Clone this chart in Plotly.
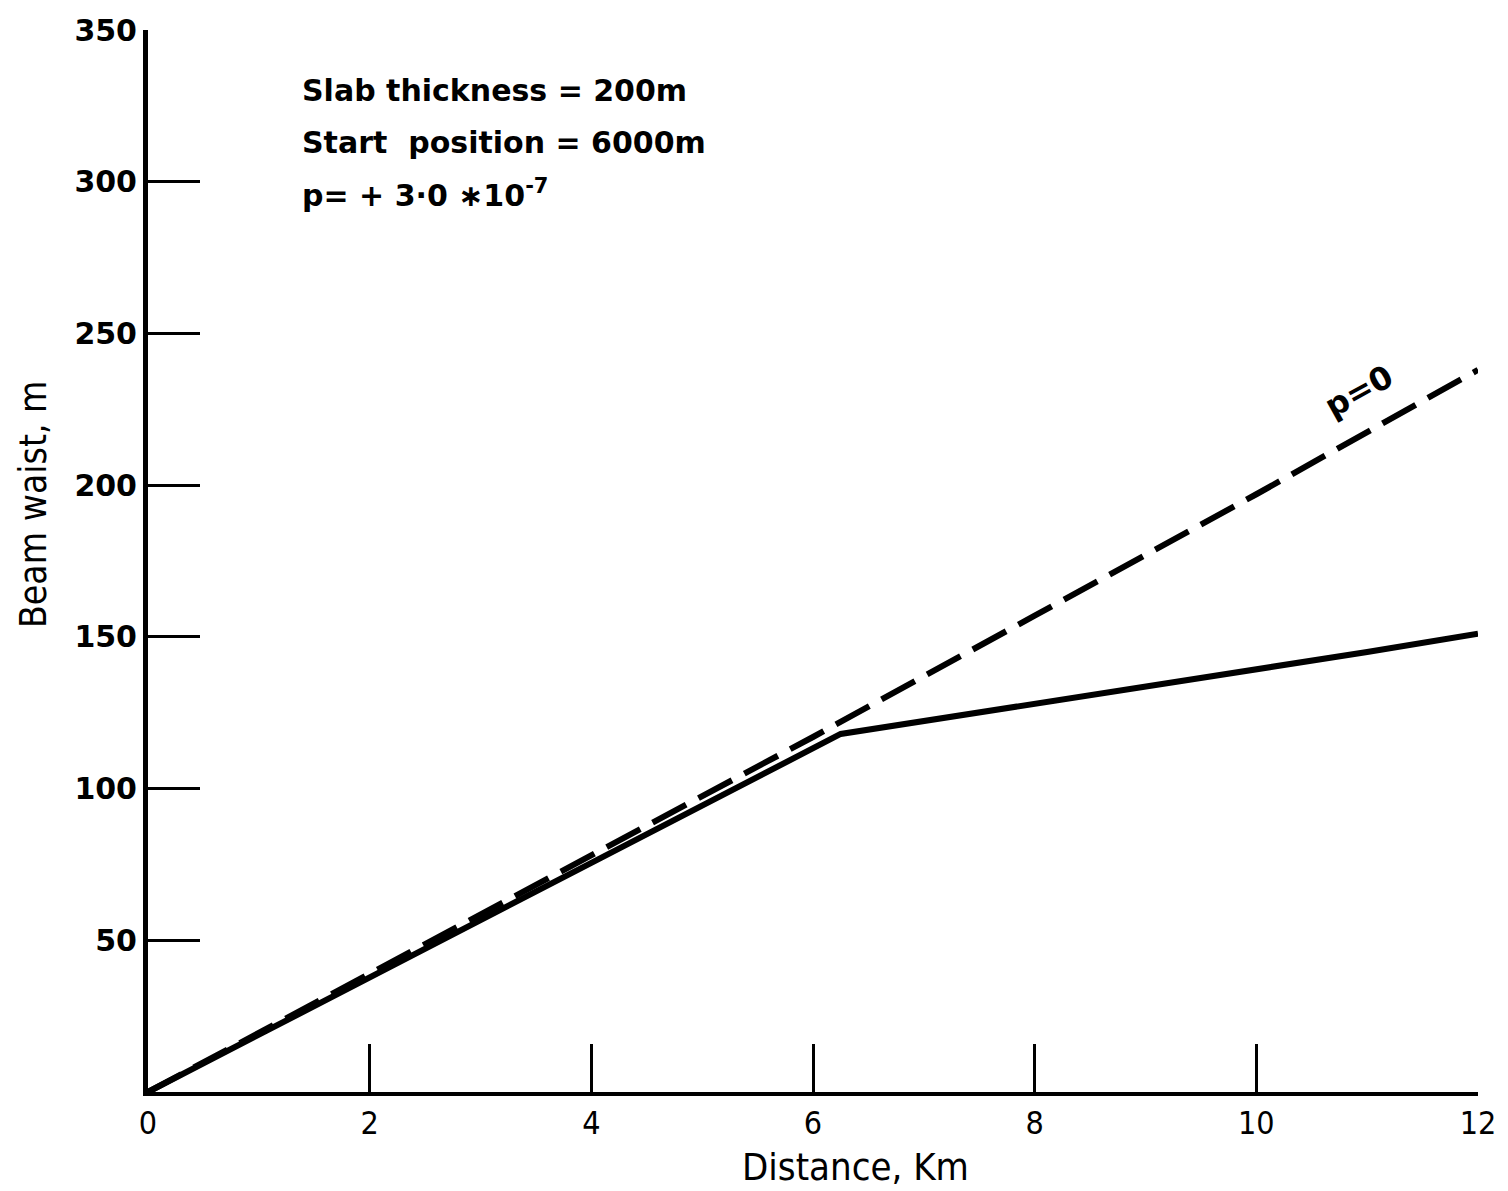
import plotly.graph_objects as go

# Data
dist_dashed = [0, 2, 4, 6, 8, 10, 12]
waist_dashed = [0, 39, 78, 117, 157, 197, 238]   # p = 0

dist_solid = [0, 2, 4, 6.25, 8, 10, 11, 12]
waist_solid = [0, 37.5, 75.5, 118, 128, 139, 145, 151]  # p = +3.0e-7

x_ticks = [0, 2, 4, 6, 8, 10, 12]
y_ticks = [50, 100, 150, 200, 250, 300, 350]

notes = ["Slab thickness = 200m", "Start&nbsp;&nbsp;position = 6000m", "p= + 3·0 ∗10<sup>-7</sup>"]

fig = go.Figure()
fig.add_trace(go.Scatter(x=dist_dashed, y=waist_dashed, mode="lines",
                         line=dict(color="black", width=6, dash="38px,14px"),
                         showlegend=False, hoverinfo="skip"))
fig.add_trace(go.Scatter(x=dist_solid, y=waist_solid, mode="lines",
                         line=dict(color="black", width=6),
                         showlegend=False, hoverinfo="skip"))

note_y = [330, 313, 296]
for t, yy in zip(notes, note_y):
    fig.add_annotation(x=1.37, y=yy, text=t, showarrow=False, xanchor="left", yanchor="middle",
                       font=dict(family="DejaVu Sans", size=30, color="black", weight="bold"))

fig.add_annotation(x=10.93, y=231, text="p=0", showarrow=False, textangle=-29,
                   font=dict(family="DejaVu Sans", size=32, color="black", weight="bold"))

# axis titles placed as annotations to match reference positions
fig.add_annotation(xref="paper", yref="paper", x=0.5316, y=-0.0705, text="Distance, Km",
                   showarrow=False, xanchor="center", yanchor="middle",
                   font=dict(family="DejaVu Sans Condensed", size=38, color="black"))
fig.add_annotation(xref="paper", yref="paper", x=-0.0865, y=0.5536, text="Beam waist, m",
                   showarrow=False, xanchor="center", yanchor="middle", textangle=-90,
                   font=dict(family="DejaVu Sans Condensed", size=37, color="black"))

fig.update_layout(
    width=1508, height=1191,
    margin=dict(l=148, r=30, t=28, b=99),
    paper_bgcolor="white", plot_bgcolor="white",
    font=dict(family="DejaVu Sans", color="black"),
    xaxis=dict(range=[0, 12], tickvals=x_ticks, ticktext=[str(v) for v in x_ticks],
               showgrid=False, zeroline=False, showline=True, linewidth=4, linecolor="black",
               ticks="inside", ticklen=48, tickwidth=3, tickcolor="black",
               tickfont=dict(family="DejaVu Sans Condensed", size=32)),
    yaxis=dict(range=[0, 350], tickvals=y_ticks, ticktext=[str(v) for v in y_ticks],
               showgrid=False, zeroline=False, showline=True, linewidth=5, linecolor="black",
               ticks="inside", ticklen=52, tickwidth=3, tickcolor="black",
               tickfont=dict(family="DejaVu Sans", size=30, weight="bold")),
)

fig.write_html("out.html")
